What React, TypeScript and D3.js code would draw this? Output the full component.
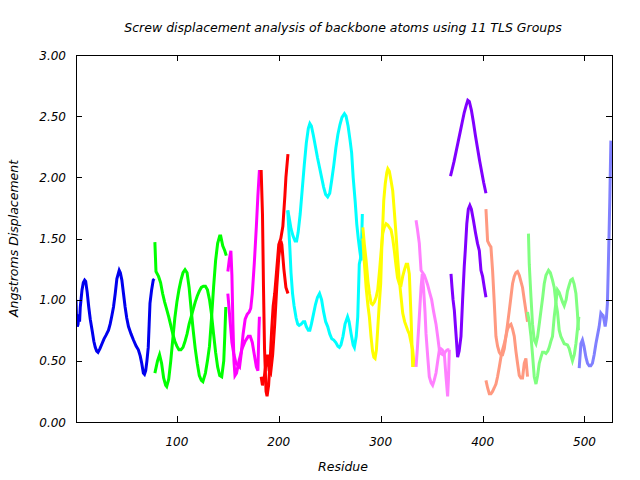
import React from "react";
import * as d3 from "d3";

type Pt = [number, number];

const title = "Screw displacement analysis of backbone atoms using 11 TLS Groups";
const xLabel = "Residue";
const yLabel = "Angstroms Displacement";
const xTicks = [100, 200, 300, 400, 500];
const yTicks = [0, 0.5, 1, 1.5, 2, 2.5, 3];
const xDomain: [number, number] = [1, 527];
const yDomain: [number, number] = [0, 3];

// group 1 (blue)
const blue1: Pt[] = [[1,1.0],[1.5,0.85],[2.3,0.78],[3,0.8],[3.8,0.88],[4.5,0.82],[5.2,0.94],[6.9,1.08],[8.2,1.14],[9.5,1.16],[10.5,1.15],[12,1.06],[13.5,0.94],[15,0.84],[16.8,0.75],[18.5,0.66],[19.9,0.61],[21.3,0.58],[22.6,0.57],[24.5,0.6],[26.5,0.64],[28.5,0.68],[30.5,0.71],[32.9,0.75],[34.5,0.8],[36,0.86],[37.8,0.94],[39.5,1.05],[41.1,1.17],[43.4,1.24],[44.5,1.22],[46,1.16],[47.6,1.05],[49.2,0.94],[50.8,0.85],[52.5,0.78],[55,0.72],[57.4,0.67],[60,0.62],[62.2,0.59],[64,0.54],[65.5,0.48],[67.1,0.4],[68.2,0.39],[69.4,0.42],[70.6,0.5],[71.9,0.61],[72.8,0.8],[73.6,0.97],[75.2,1.08],[76.8,1.16],[77.8,1.17]];
// group 2 (green)
const green1: Pt[] = [[78.4,1.47],[79.5,1.23],[82,1.19],[84,1.14],[86,1.05],[88,0.98],[90,0.92],[92,0.86],[94,0.79],[96,0.72],[98,0.66],[100,0.62],[102,0.59],[104,0.59],[106,0.61],[108,0.66],[110,0.72],[112,0.8],[114,0.86],[116,0.92],[118,0.98],[120,1.03],[122,1.07],[124,1.1],[126,1.11],[128,1.11],[130,1.08],[132,1.0],[134,0.88],[136,0.72],[138,0.57],[140,0.45],[142,0.38],[144,0.37],[146,0.5],[147,0.7],[148,0.94]];
const green2: Pt[] = [[78.4,0.4],[81,0.5],[83,0.55],[85,0.48],[87,0.36],[89,0.3],[90,0.29],[92,0.35],[94,0.5],[96,0.68],[98,0.85],[100,0.98],[102,1.08],[104,1.16],[106,1.22],[108,1.245],[110,1.22],[112,1.1],[114,0.92],[116,0.75],[118,0.6],[120,0.48],[122,0.38],[124,0.34],[125.5,0.33],[128,0.4],[130,0.5],[132,0.62],[134,0.85],[136,1.1],[138,1.32],[140,1.46],[142,1.52],[143,1.52],[145,1.44],[147,1.4],[148.5,1.36]];
// group 3 (magenta)
const magenta1: Pt[] = [[150,1.23],[151.5,1.33],[153,1.4],[154,1.2],[155,0.8],[156,0.5],[157,0.38],[158.5,0.4],[161,0.5],[164,0.6],[167,0.66],[170,0.7],[172,0.7],[174,0.65],[176,0.55],[178,0.45],[179.5,0.42],[180.5,0.75],[181,0.86]];
const magenta2: Pt[] = [[150,1.05],[152,0.85],[154,0.65],[156,0.55],[158,0.48],[161.5,0.45],[163,0.55],[165,0.72],[167,0.84],[169,0.88],[171,0.9],[172.5,0.93],[174,1.05],[176,1.3],[178,1.6],[179.5,1.85],[181,2.06]];
// group 4 (red)
const red1: Pt[] = [[182.7,2.06],[184,1.7],[185,1.1],[186,0.6],[187.5,0.25],[188.5,0.21],[190,0.3],[191.5,0.5],[193,0.75],[194.5,0.95],[196,1.05],[198,1.25],[200,1.45],[202,1.5],[204,1.6],[206,1.85],[207,2.0],[209,2.19]];
const red2: Pt[] = [[182.7,0.37],[184,0.3],[185.5,0.35],[187,0.45],[189,0.55],[190.5,0.42],[192,0.4],[194,0.55],[196,0.8],[198,1.1],[200,1.35],[202,1.48],[203,1.45],[205,1.25],[207,1.1],[209,1.05]];
// group 5 (cyan)
const cyan1: Pt[] = [[208.8,1.73],[210,1.68],[212,1.58],[214,1.52],[216,1.48],[217.5,1.48],[219,1.55],[221,1.7],[223,1.9],[225,2.1],[227,2.28],[229,2.4],[230.5,2.44],[232,2.42],[234,2.34],[236,2.25],[238,2.16],[240,2.08],[242,2.0],[244,1.92],[246,1.86],[248,1.84],[250,1.87],[252,1.98],[254,2.1],[256,2.24],[258,2.35],[260,2.43],[262,2.49],[264.4,2.52],[266,2.5],[268,2.42],[270,2.3],[271.5,2.2],[273,2.0],[275,1.8],[276.5,1.62],[278,1.5],[279.5,1.4],[280.8,1.32],[282,1.7]];
const cyan2: Pt[] = [[208.8,1.73],[210,1.55],[211,1.4],[212,1.22],[213.5,1.05],[215,0.95],[217,0.85],[218.6,0.8],[220,0.79],[222,0.8],[224,0.82],[225.5,0.82],[227,0.78],[229,0.75],[230.5,0.75],[232,0.8],[234,0.88],[236,0.96],[238,1.02],[240,1.05],[242,1.0],[244,0.9],[246,0.82],[248,0.78],[250,0.72],[252,0.68],[254,0.67],[256,0.65],[258,0.62],[259.5,0.61],[261,0.63],[263,0.7],[265,0.8],[267.5,0.86],[269,0.82],[271,0.72],[273,0.63],[274.2,0.61],[276,0.7],[277.5,0.86],[279,1.29],[280.5,1.35]];
// group 6 (yellow)
const yellow1: Pt[] = [[282.5,1.59],[284,1.45],[285.7,1.32],[287.5,1.15],[289,1.05],[290.6,0.97],[292,0.96],[293.8,0.98],[295.5,1.02],[297.1,1.08],[299,1.25],[301,1.45],[302,1.54],[303.5,1.59],[305.3,1.62],[307,1.61],[308.5,1.59],[310.2,1.57],[311.8,1.5],[313.4,1.4],[315,1.28],[316.5,1.18],[318.3,1.13],[320,1.12],[321.6,1.19],[323.5,1.25],[325,1.29],[326.5,1.29],[328.1,1.21],[329.8,0.86],[331.4,0.45]];
const yellow2: Pt[] = [[282.5,1.5],[284,1.3],[285.7,1.1],[287.5,0.95],[288.9,0.86],[290.5,0.7],[292,0.58],[293.3,0.53],[294.5,0.52],[295.8,0.59],[297,0.75],[298.5,0.95],[300,1.13],[301,1.4],[302,1.6],[303,1.81],[304.5,1.95],[306,2.04],[307,2.07],[308.5,2.05],[310,1.98],[311.8,1.89],[313.4,1.72],[315,1.54],[316.5,1.35],[318.3,1.16],[320,1.02],[321.6,0.89],[323.5,0.82],[326.5,0.75],[328.1,0.72],[329.8,0.65],[331.4,0.59],[333,0.45]];
// group 7 (pink)
const pink1: Pt[] = [[334.7,1.65],[336,1.58],[337.9,1.46],[339.6,1.24],[341.2,1.22],[342.8,1.2],[344.5,1.16],[346.1,1.12],[348,1.06],[350,1.0],[352,0.9],[354.3,0.8],[355.9,0.7],[357.6,0.59],[359,0.56],[361,0.55],[362.5,0.56],[364,0.58],[365.7,0.59],[367.4,0.59]];
const pink2: Pt[] = [[334.7,0.45],[336,0.6],[337.9,0.86],[339.6,1.1],[340.8,1.21],[342,1.1],[343.5,0.9],[344.5,0.72],[346,0.55],[347.7,0.37],[349.5,0.32],[351,0.3],[352.5,0.34],[354.3,0.4],[356,0.5],[357.6,0.59],[359,0.6],[360.5,0.59],[362.5,0.55],[364.1,0.37],[365.7,0.21],[366.5,0.35],[367.4,0.59]];
// group 8 (purple)
const purple1: Pt[] = [[368.5,2.01],[370,2.06],[372,2.13],[374,2.21],[376,2.29],[378,2.37],[380,2.45],[382,2.53],[384,2.59],[385.5,2.63],[387,2.62],[389,2.55],[391,2.45],[393,2.34],[395,2.24],[397,2.14],[399,2.05],[401,1.96],[403.3,1.87]];
const purple2: Pt[] = [[369,1.21],[370,1.1],[371,1.0],[372.3,0.91],[373.9,0.72],[375.5,0.53],[377,0.58],[378.8,0.7],[380.4,1.0],[382,1.27],[383,1.4],[384.5,1.62],[386,1.74],[387.5,1.77],[389,1.74],[391,1.65],[393,1.55],[395,1.46],[396.8,1.4],[398.4,1.24],[400,1.19],[401.7,1.1],[403.3,1.02]];
// group 9 (salmon)
const salmon1: Pt[] = [[403.3,1.74],[404.9,1.48],[406.6,1.45],[408.2,1.43],[409.8,1.24],[411.5,0.97],[413.1,0.7],[414.7,0.62],[416.4,0.57],[418,0.55],[419.6,0.55],[421.3,0.6],[422.9,0.7],[424.5,0.8],[426.2,0.91],[427.8,1.02],[429.4,1.13],[431.1,1.19],[432.7,1.22],[434.3,1.23],[436,1.2],[437.6,1.15],[439.2,1.1],[440.9,1.0],[442.5,0.91],[444.1,0.82]];
const salmon2: Pt[] = [[403.3,0.34],[404.9,0.28],[406.6,0.23],[408.2,0.23],[409.8,0.25],[411.5,0.28],[413.1,0.31],[414.7,0.37],[416.4,0.45],[418,0.53],[419.6,0.59],[421.3,0.64],[422.9,0.7],[424.5,0.76],[426.2,0.79],[427.8,0.8],[429.4,0.76],[431.1,0.7],[432.7,0.58],[434.3,0.48],[436,0.38],[437.6,0.36],[439.2,0.36],[440.9,0.48],[442.5,0.52],[444.1,0.37]];
// group 10 (light green)
const lgreen1: Pt[] = [[445,1.54],[445.8,1.29],[447.5,1.02],[449,0.8],[450.7,0.67],[452.4,0.64],[454,0.7],[455.6,0.8],[457.3,0.91],[459,1.02],[460.5,1.13],[462.2,1.2],[464.7,1.24],[466.5,1.22],[468.6,1.16],[470.3,1.1],[472,0.97],[473.5,0.9],[475.2,0.75],[476.8,0.7],[480.1,0.64],[483.3,0.63],[485,0.6],[486.5,0.55],[488.2,0.5],[490,0.55],[491.6,0.64],[493,0.75],[494.5,0.86]];
const lgreen2: Pt[] = [[444.1,0.9],[445.8,0.82],[447.5,0.7],[449,0.55],[450.7,0.37],[452.4,0.31],[454,0.38],[455.6,0.48],[457.3,0.53],[458.8,0.57],[460.5,0.57],[462.2,0.56],[464,0.58],[465.4,0.61],[467,0.66],[468.6,0.7],[470.3,0.86],[472,0.98],[473.5,1.08],[475.2,1.06],[476.8,1.02],[478.5,0.98],[480.1,0.95],[482,1.0],[483.3,1.07],[485,1.12],[486.5,1.16],[488.2,1.17],[489.8,1.13],[491.6,1.05],[493,0.9],[494.1,0.75]];
// group 11 (light blue)
const lblue1: Pt[] = [[494.8,0.44],[496.5,0.64],[498,0.67],[499.5,0.62],[501.4,0.53],[503,0.48],[504.6,0.46],[506.2,0.46],[507.8,0.48],[509.5,0.55],[511.2,0.64],[512.8,0.71],[514.4,0.78],[516.1,0.89],[517,0.88],[518.3,0.87],[519.5,0.82],[520.3,0.78],[521.5,0.85],[522.5,0.97],[523.3,1.24],[524.2,1.57],[524.9,1.84],[525.9,2.3]];

const seriesList: { data: Pt[]; color: string }[] = [
  { data: blue1, color: "#0000ee" },
  { data: green1, color: "#00ff00" },
  { data: green2, color: "#00ff00" },
  { data: magenta1, color: "#ff00ff" },
  { data: magenta2, color: "#ff00ff" },
  { data: red1, color: "#ff0000" },
  { data: red2, color: "#ff0000" },
  { data: cyan1, color: "#00ffff" },
  { data: cyan2, color: "#00ffff" },
  { data: yellow1, color: "#ffff00" },
  { data: yellow2, color: "#ffff00" },
  { data: pink1, color: "#ff80ff" },
  { data: pink2, color: "#ff80ff" },
  { data: purple1, color: "#8000ff" },
  { data: purple2, color: "#8000ff" },
  { data: salmon1, color: "#ff9980" },
  { data: salmon2, color: "#ff9980" },
  { data: lgreen1, color: "#80ff80" },
  { data: lgreen2, color: "#80ff80" },
  { data: lblue1, color: "#8080ff" },
];

const W = 640;
const H = 480;
const M = { left: 76, right: 612, top: 55, bottom: 422 };
const FONT = "'DejaVu Sans', sans-serif";

export default function App() {
  const x = d3.scaleLinear().domain(xDomain).range([M.left, M.right]);
  const y = d3.scaleLinear().domain(yDomain).range([M.bottom, M.top]);
  const line = d3
    .line<Pt>()
    .x((d) => x(d[0]))
    .y((d) => y(d[1]));
  const tick = 6;

  return (
    <svg
      width={W}
      height={H}
      style={{ position: "absolute", left: 0, top: 0, background: "#fff" }}
      fontFamily={FONT}
    >
      <defs>
        <clipPath id="plotclip">
          <rect x={M.left} y={M.top} width={M.right - M.left} height={M.bottom - M.top} />
        </clipPath>
      </defs>
      <rect x={0} y={0} width={W} height={H} fill="#fff" />
      <g clipPath="url(#plotclip)">
        {seriesList.map((s, i) => (
          <path
            key={i}
            d={line(s.data) || ""}
            fill="none"
            stroke={s.color}
            strokeWidth={3}
            strokeLinejoin="miter"
            strokeLinecap="butt"
          />
        ))}
      </g>
      {/* ticks */}
      <g stroke="#000" strokeWidth={1}>
        {yTicks.map((t) => (
          <g key={"y" + t}>
            <line x1={M.left} x2={M.left + tick} y1={Math.round(y(t)) + 0.5} y2={Math.round(y(t)) + 0.5} />
            <line x1={M.right} x2={M.right - tick} y1={Math.round(y(t)) + 0.5} y2={Math.round(y(t)) + 0.5} />
          </g>
        ))}
        {xTicks.map((t) => (
          <g key={"x" + t}>
            <line x1={Math.round(x(t)) + 0.5} x2={Math.round(x(t)) + 0.5} y1={M.bottom} y2={M.bottom - tick} />
            <line x1={Math.round(x(t)) + 0.5} x2={Math.round(x(t)) + 0.5} y1={M.top} y2={M.top + tick} />
          </g>
        ))}
      </g>
      <rect
        x={M.left + 0.5}
        y={M.top + 0.5}
        width={M.right - M.left}
        height={M.bottom - M.top}
        fill="none"
        stroke="#000"
        strokeWidth={1}
      />
      {/* tick labels */}
      <g fontSize={12} fontStyle="italic" fill="#000">
        {yTicks.map((t) => (
          <text key={"yl" + t} x={66} y={y(t) + 4.5} textAnchor="end">
            {d3.format(".2f")(t)}
          </text>
        ))}
        {xTicks.map((t) => (
          <text key={"xl" + t} x={x(t)} y={446} textAnchor="middle">
            {t}
          </text>
        ))}
      </g>
      <text x={343} y={32} textAnchor="middle" fontSize={12.5} fontStyle="italic">
        {title}
      </text>
      <text x={343} y={471} textAnchor="middle" fontSize={12.5} fontStyle="italic">
        {xLabel}
      </text>
      <text
        transform={`translate(18,${(M.top + M.bottom) / 2}) rotate(-90)`}
        textAnchor="middle"
        fontSize={12.5}
        fontStyle="italic"
      >
        {yLabel}
      </text>
    </svg>
  );
}
